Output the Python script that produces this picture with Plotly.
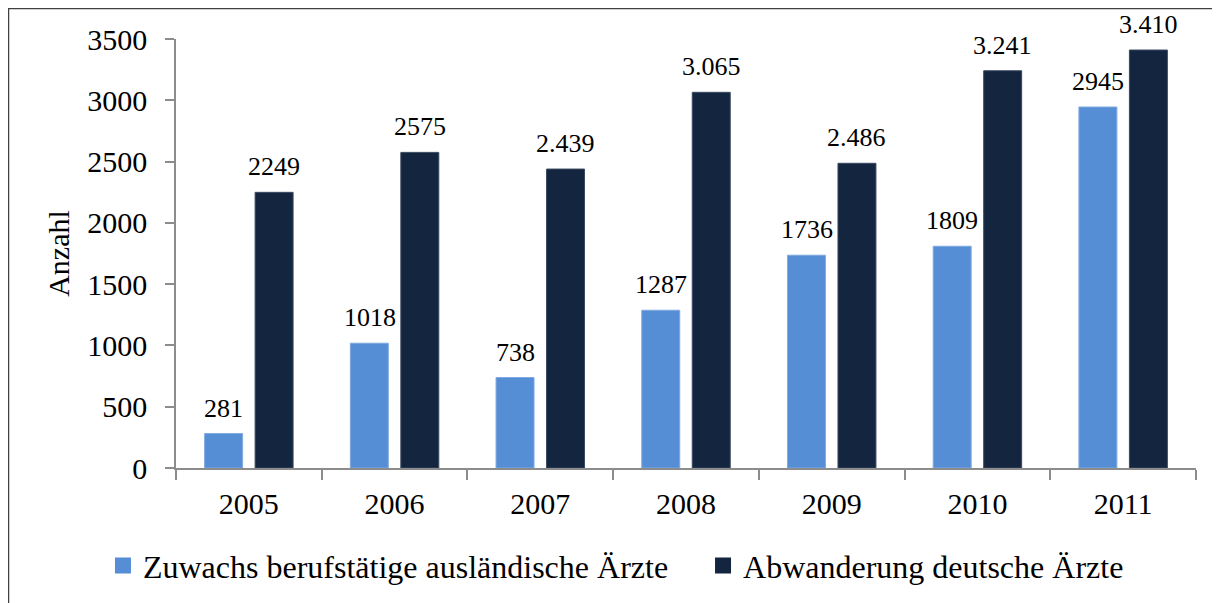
import plotly.graph_objects as go

years = ["2005", "2006", "2007", "2008", "2009", "2010", "2011"]
zuwachs = [281, 1018, 738, 1287, 1736, 1809, 2945]
abwanderung = [2249, 2575, 2439, 3065, 2486, 3241, 3410]
zuwachs_labels = ["281", "1018", "738", "1287", "1736", "1809", "2945"]
abwanderung_labels = ["2249", "2575", "2.439", "3.065", "2.486", "3.241", "3.410"]
y_ticks = [0, 500, 1000, 1500, 2000, 2500, 3000, 3500]

name_a = "Zuwachs berufstätige ausländische Ärzte"
name_b = "Abwanderung deutsche Ärzte"
col_a = "#558ED5"
col_b = "#13253F"
FONT = "Liberation Serif"

# the page body adds an 8px offset; figure coordinates below are page minus 8
W, H = 1220, 603
L, R, T, B = 168, 32, 31, 143
pw, ph = W - L - R, H - T - B

fig = go.Figure()
fig.add_trace(go.Bar(x=years, y=zuwachs, name=name_a,
                     marker=dict(color=col_a, line=dict(color="#7FA9E0", width=1)), showlegend=False))
fig.add_trace(go.Bar(x=years, y=abwanderung, name=name_b,
                     marker=dict(color=col_b, line=dict(color="#3A4A60", width=1)), showlegend=False))
# legend entries
fig.add_trace(go.Scatter(x=[years[0]], y=[None], mode="markers", name=name_a, legend="legend",
                         marker=dict(symbol="square", size=16, color=col_a)))
fig.add_trace(go.Scatter(x=[years[0]], y=[None], mode="markers", name=name_b, legend="legend2",
                         marker=dict(symbol="square", size=16, color=col_b)))

annotations = []
for i, (v, t) in enumerate(zip(zuwachs, zuwachs_labels)):
    annotations.append(dict(x=i, y=v, text=t, xref="x", yref="y", showarrow=False,
                            xshift=-25, yshift=9, yanchor="bottom",
                            font=dict(family=FONT, size=26, color="black")))
for i, (v, t) in enumerate(zip(abwanderung, abwanderung_labels)):
    annotations.append(dict(x=i, y=v, text=t, xref="x", yref="y", showarrow=False,
                            xshift=25, yshift=9, yanchor="bottom",
                            font=dict(family=FONT, size=26, color="black")))

leg_common = dict(orientation="h", xanchor="left", y=-0.228, yanchor="middle",
                  font=dict(family=FONT, size=32, color="black"), itemclick=False,
                  bgcolor="rgba(0,0,0,0)")

fig.update_layout(
    width=W, height=H,
    margin=dict(l=L, r=R, t=T, b=B, pad=0, autoexpand=False),
    paper_bgcolor="white", plot_bgcolor="white",
    font=dict(family=FONT, size=30, color="black"),
    barmode="group", bargap=0.307, bargroupgap=0.248,
    annotations=annotations,
    legend=dict(x=-0.0716, **leg_common),
    legend2=dict(x=0.5167, **leg_common),
    shapes=[dict(type="rect", xref="paper", yref="paper",
                 x0=(0 - L) / pw, x1=(W + 20 - L) / pw, y0=-(B + 20) / ph, y1=1 + T / ph,
                 line=dict(color="#404040", width=2.5), fillcolor="rgba(0,0,0,0)", layer="above")],
)
fig.update_xaxes(type="category", categoryorder="array", categoryarray=years, range=[-0.5, len(years) - 0.5],
                 showline=True, linecolor="#8C8C8C", linewidth=1.5, ticks="outside",
                 tickson="boundaries", ticklen=10, tickcolor="#8C8C8C", tickwidth=1.5,
                 showgrid=False, tickfont=dict(family=FONT, size=30), ticklabelstandoff=8,
                 automargin=False, tickangle=0)
fig.update_yaxes(range=[0, 3500], tickvals=y_ticks, showline=True, linecolor="#8C8C8C", linewidth=1.5,
                 ticks="outside", ticklen=9, tickcolor="#8C8C8C", tickwidth=1.5, showgrid=False,
                 zeroline=False, tickfont=dict(family=FONT, size=30), ticklabelstandoff=12,
                 title=dict(text="Anzahl", font=dict(family=FONT, size=30), standoff=9),
                 automargin=False)

fig.write_html("out.html")
